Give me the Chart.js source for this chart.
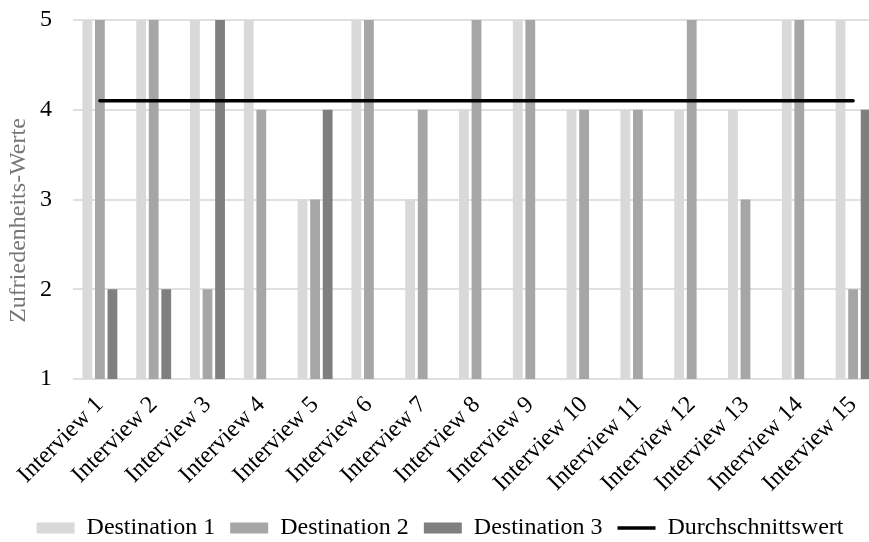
<!DOCTYPE html>
<html lang="de">
<head>
<meta charset="utf-8">
<title>Zufriedenheits-Werte je Interview</title>
<script src="https://cdn.jsdelivr.net/npm/chart.js@4/dist/chart.umd.min.js"></script>
<style>
  html, body { margin: 0; padding: 0; background: #fff; overflow: hidden; }
  #wrap { width: 884px; height: 550px; }
</style>
</head>
<body>
<div id="wrap"><canvas id="c" width="884" height="550"></canvas></div>
<script>
// Interviews (categories)
const interviews = [
  'Interview 1', 'Interview 2', 'Interview 3', 'Interview 4', 'Interview 5',
  'Interview 6', 'Interview 7', 'Interview 8', 'Interview 9', 'Interview 10',
  'Interview 11', 'Interview 12', 'Interview 13', 'Interview 14', 'Interview 15'
];

// Satisfaction scores per destination (null = no rating given)
const destination1 = [5, 5, 5, 5, 3, 5, 3, 4, 5, 4, 4, 4, 4, 5, 5];
const destination2 = [5, 5, 2, 4, 3, 5, 4, 5, 5, 4, 4, 5, 3, 5, 2];
const destination3 = [2, 2, 5, null, 4, null, null, null, null, null, null, null, null, null, 4];

// Overall average across all ratings
const averageValue = 4.1;
const averageLine = interviews.map(() => averageValue);

// Value axis ticks
const yTicks = [1, 2, 3, 4, 5];

const serif = '"Liberation Serif", "Times New Roman", serif';

const barCommon = {
  type: 'bar',
  borderWidth: 0,
  categoryPercentage: 0.7,
  barPercentage: 0.78,
  pointStyle: 'rect',
  order: 1
};

// Axis title sits a little below the plot centre; trailing blanks nudge it down
const yTitle = 'Zufriedenheits-Werte' + '\u00a0'.repeat(7);

new Chart(document.getElementById('c'), {
  data: {
    labels: interviews,
    datasets: [
      Object.assign({ label: 'Destination 1', data: destination1, backgroundColor: '#d9d9d9' }, barCommon),
      Object.assign({ label: 'Destination 2', data: destination2, backgroundColor: '#a6a6a6' }, barCommon),
      Object.assign({ label: 'Destination 3', data: destination3, backgroundColor: '#7f7f7f' }, barCommon),
      {
        type: 'line',
        label: 'Durchschnittswert',
        data: averageLine,
        borderColor: '#000',
        backgroundColor: '#000',
        borderWidth: 3.5,
        borderCapStyle: 'round',
        pointRadius: 0,
        pointHoverRadius: 0,
        pointStyle: 'line',
        order: 0
      }
    ]
  },
  options: {
    responsive: false,
    animation: false,
    layout: { padding: { top: 20, right: 4, left: 0, bottom: 0 } },
    plugins: {
      tooltip: { enabled: false },
      legend: {
        position: 'bottom',
        labels: {
          usePointStyle: true,
          pointStyleWidth: 38,
          boxWidth: 38,
          boxHeight: 11,
          padding: 15,
          color: '#000',
          font: { family: serif, size: 24 },
          sort: (a, b) => a.datasetIndex - b.datasetIndex
        }
      }
    },
    scales: {
      x: {
        offset: true,
        grid: { display: false },
        border: { display: false },
        ticks: {
          minRotation: 45,
          maxRotation: 45,
          autoSkip: false,
          padding: 4,
          color: '#000',
          font: { family: serif, size: 24 }
        },
        afterFit: (s) => { s.height = 122; }
      },
      y: {
        min: 1,
        max: 5,
        afterBuildTicks: (s) => { s.ticks = yTicks.map(v => ({ value: v })); },
        grid: { color: '#e0e0e0', lineWidth: 2, drawTicks: false },
        border: { display: false },
        ticks: {
          padding: 21,
          color: '#000',
          font: { family: serif, size: 24 }
        },
        title: {
          display: true,
          text: yTitle,
          color: '#767676',
          font: { family: serif, size: 24 },
          padding: { top: 4, bottom: 0 }
        },
        afterFit: (s) => {
          s.width = 73;
          s.paddingTop = 0;
          s.paddingBottom = 0;
        }
      }
    }
  }
});
</script>
</body>
</html>
